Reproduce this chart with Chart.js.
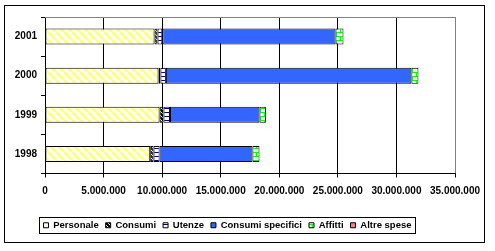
<!DOCTYPE html>
<html>
<head>
<meta charset="utf-8">
<script src="https://cdn.jsdelivr.net/npm/chart.js@4/dist/chart.umd.min.js"></script>
<style>
  html, body { margin: 0; padding: 0; background: #fff; }
  canvas { display: block; }
</style>
</head>
<body>
<canvas id="c" width="495" height="251"></canvas>
<script>
// Anni e voci di spesa (valori in euro)
const anni = ['1998', '1999', '2000', '2001'];
const persone          = [8980000, 9780000, 9690000, 9350000];
const consumi          = [290000, 340000, 170000, 260000];
const utenze           = [510000, 550000, 460000, 400000];
const consumiSpecifici = [7930000, 7640000, 20960000, 14790000];
const affitti          = [600000, 550000, 600000, 680000];
const altreSpese       = [0, 0, 0, 0];
const tickValori = [0, 5000000, 10000000, 15000000, 20000000, 25000000, 30000000, 35000000];

const FONT = "'Liberation Sans', Arial, sans-serif";

function tile(w, h, draw) {
  const c = document.createElement('canvas');
  c.width = w; c.height = h;
  const g = c.getContext('2d');
  draw(g);
  return g.createPattern(c, 'repeat');
}

// righe diagonali gialle
const pattPersone = tile(8, 8, g => {
  g.fillStyle = '#ffffff'; g.fillRect(0, 0, 8, 8);
  g.strokeStyle = '#ffff80'; g.lineWidth = 3;
  for (const x0 of [-8, 0, 8]) {
    g.beginPath(); g.moveTo(x0, 0); g.lineTo(x0 + 8, 8); g.stroke();
  }
});
// coriandoli bianchi su nero
const pattConsumi = tile(4, 4, g => {
  g.fillStyle = '#000000'; g.fillRect(0, 0, 4, 4);
  g.fillStyle = '#ffffff';
  g.fillRect(1, 0, 1, 1); g.fillRect(3, 2, 1, 1); g.fillRect(0, 3, 1, 1); g.fillRect(2, 1, 1, 1);
});
// righe orizzontali blu scuro
const pattUtenze = tile(4, 4, g => {
  g.fillStyle = '#ffffff'; g.fillRect(0, 0, 4, 4);
  g.fillStyle = '#000080'; g.fillRect(0, 0, 4, 1);
});
// mattoni verdi
const pattAffitti = tile(8, 8, g => {
  g.fillStyle = '#ffffff'; g.fillRect(0, 0, 8, 8);
  g.fillStyle = '#00ff00';
  g.fillRect(0, 0, 8, 1); g.fillRect(0, 4, 8, 1);
  g.fillRect(0, 0, 1, 4); g.fillRect(4, 4, 1, 4);
});

function fmt(v) {
  return String(v).replace(/\B(?=(\d{3})+(?!\d))/g, '.');
}

const cornice = {
  id: 'cornice',
  beforeDraw(chart) {
    const ctx = chart.ctx;
    ctx.save();
    ctx.fillStyle = '#ffffff';
    ctx.fillRect(0, 0, chart.width, chart.height);
    ctx.restore();
  },
  afterDraw(chart) {
    const ctx = chart.ctx;
    const a = chart.chartArea;
    ctx.save();
    // bordo superiore dell'area del grafico
    ctx.strokeStyle = '#808080';
    ctx.lineWidth = 1;
    ctx.beginPath();
    ctx.moveTo(a.left, Math.round(a.top) + 0.5);
    ctx.lineTo(Math.round(a.right) + 0.5, Math.round(a.top) + 0.5);
    ctx.stroke();
    // riquadro esterno
    ctx.strokeStyle = '#000000';
    ctx.strokeRect(4.5, 5.5, 480, 237);
    // riquadro della legenda
    const lg = chart.legend;
    if (lg && lg.legendHitBoxes && lg.legendHitBoxes.length) {
      const hb = lg.legendHitBoxes;
      const first = hb[0], last = hb[hb.length - 1];
      const x1 = Math.round(first.left) - 3.5;
      const x2 = Math.round(last.left + last.width) + 3.5;
      const cy = first.top + first.height / 2;
      ctx.strokeRect(x1, Math.round(cy - 8) + 0.5, x2 - x1, 16);
    }
    ctx.restore();
  }
};

const serie = [
  ['Personale', persone, pattPersone],
  ['Consumi', consumi, pattConsumi],
  ['Utenze', utenze, pattUtenze],
  ['Consumi specifici', consumiSpecifici, '#3366ff'],
  ['Affitti', affitti, pattAffitti],
  ['Altre spese', altreSpese, '#ff8080']
];

new Chart(document.getElementById('c'), {
  type: 'bar',
  data: {
    labels: anni,
    datasets: serie.map(([label, data, fill]) => ({
      label, data,
      backgroundColor: fill,
      borderColor: '#000000',
      borderWidth: 1,
      borderSkipped: false,
      categoryPercentage: 1,
      barPercentage: 0.41
    }))
  },
  options: {
    indexAxis: 'y',
    responsive: false,
    devicePixelRatio: 1,
    animation: false,
    layout: { padding: { left: 0, right: 40, top: 17, bottom: 11 } },
    scales: {
      x: {
        stacked: true,
        min: 0, max: 35000000,
        afterBuildTicks(scale) { scale.ticks = tickValori.map(v => ({ value: v })); },
        afterFit(scale) { scale.height = 40; },
        ticks: {
          callback: v => fmt(v),
          color: '#000000',
          font: { family: FONT, size: 10, weight: 'bold' },
          padding: 8,
          maxRotation: 0,
          autoSkip: false
        },
        grid: {
          color: ctx => (ctx.tick && ctx.tick.value === 35000000) ? '#808080' : '#000000',
          tickColor: '#000000',
          tickLength: 4,
          lineWidth: 1
        },
        border: { display: true, color: '#000000' }
      },
      y: {
        stacked: true,
        reverse: true,
        afterFit(scale) { scale.width = 45; },
        ticks: {
          color: '#000000',
          font: { family: FONT, size: 10, weight: 'bold' },
          padding: 4
        },
        grid: {
          offset: true,
          drawOnChartArea: false,
          color: '#000000',
          tickLength: 4
        },
        border: { display: true, color: '#000000' }
      }
    },
    plugins: {
      legend: {
        position: 'bottom',
        labels: {
          boxWidth: 5,
          boxHeight: 5,
          padding: 7,
          color: '#000000',
          font: { family: FONT, size: 9.5, weight: 'bold' }
        }
      },
      tooltip: { enabled: false }
    }
  },
  plugins: [cornice]
});
</script>
</body>
</html>
